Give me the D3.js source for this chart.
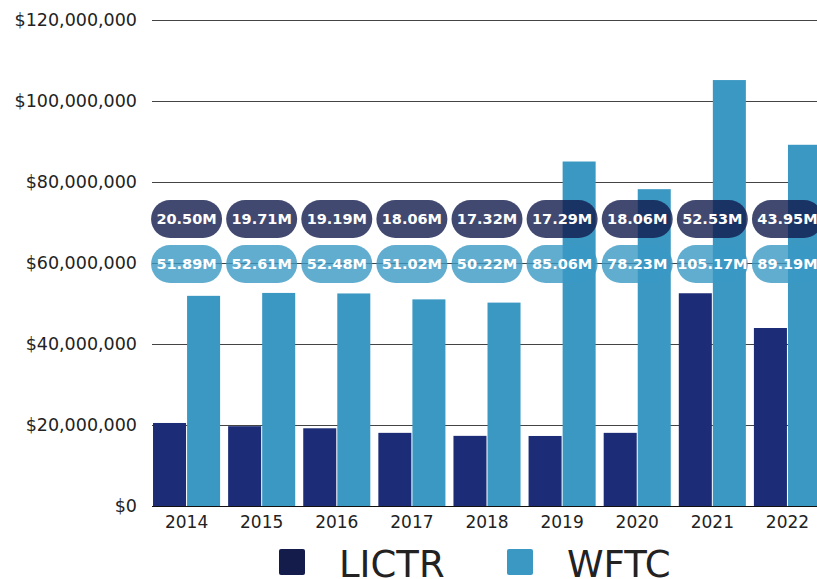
<!DOCTYPE html>
<html>
<head>
<meta charset="utf-8">
<script src="https://cdn.jsdelivr.net/npm/d3@7"></script>
<style>
  body { margin: 0; background: #fff; }
  svg text { font-family: "DejaVu Sans", sans-serif; }
</style>
</head>
<body>
<svg id="chart" width="817" height="579"></svg>
<script>
var years = ["2014", "2015", "2016", "2017", "2018", "2019", "2020", "2021", "2022"]
var seriesNames = ["LICTR", "WFTC"]
var lictr = [20.50, 19.71, 19.19, 18.06, 17.32, 17.29, 18.06, 52.53, 43.95]
var wftc = [51.89, 52.61, 52.48, 51.02, 50.22, 85.06, 78.23, 105.17, 89.19]
var yTicks = [0, 20, 40, 60, 80, 100, 120]

var colors = { LICTR: "#1c2c76", WFTC: "#3b98c3" }
var pillColors = { LICTR: "#121c4c", WFTC: "#3a98c4" }

var svg = d3.select("#chart")

var x = d3.scaleBand().domain(years).range([149, 825])
  .paddingInner(0.107).paddingOuter(0.0535)
var xInner = d3.scaleBand().domain(seriesNames).range([0, x.bandwidth()]).paddingInner(0.03)
var y = d3.scaleLinear().domain([0, 120]).range([506, 20])

// gridlines + y labels
var yAxis = svg.append("g")
  .attr("transform", "translate(152,0)")
  .call(d3.axisLeft(y).tickValues(yTicks).tickSize(-665).tickPadding(15)
    .tickFormat(d => "$" + d3.format(",")(d * 1000000)))
yAxis.select(".domain").remove()
yAxis.selectAll(".tick line").attr("stroke", "#444").attr("stroke-width", 1)
yAxis.selectAll("text").attr("font-size", 17.5).attr("fill", "#222")

var rows = years.map((yr, i) => ({ year: yr, LICTR: lictr[i], WFTC: wftc[i] }))

var groups = svg.append("g").selectAll("g").data(rows).join("g")
  .attr("transform", d => `translate(${x(d.year)},0)`)

groups.selectAll("rect").data(d => seriesNames.map(k => ({ key: k, value: d[k] }))).join("rect")
  .attr("x", d => xInner(d.key))
  .attr("width", xInner.bandwidth())
  .attr("y", d => y(d.value))
  .attr("height", d => y(0) - y(d.value))
  .attr("fill", d => colors[d.key])

// x axis
var xAxis = svg.append("g")
  .attr("transform", "translate(0,506)")
  .call(d3.axisBottom(x).tickSize(0).tickPadding(10))
xAxis.select(".domain").attr("d", "M152,0.5H817").attr("stroke", "#111").attr("stroke-width", 1.2)
xAxis.selectAll("text").attr("font-size", 17).attr("fill", "#222")

// value pills
var pillRows = [{ key: "LICTR", cy: 219, vals: lictr }, { key: "WFTC", cy: 264, vals: wftc }]
pillRows.forEach(function (row) {
  var g = svg.append("g").selectAll("g").data(row.vals).join("g")
    .attr("transform", (d, i) => `translate(${x(years[i]) + x.bandwidth() / 2},${row.cy})`)
  g.append("rect")
    .attr("x", -35.5).attr("y", -19).attr("width", 71).attr("height", 38)
    .attr("rx", 19)
    .attr("fill", pillColors[row.key])
    .attr("fill-opacity", 0.8)
  g.append("text")
    .attr("text-anchor", "middle")
    .attr("dy", "0.36em")
    .attr("font-size", 14.5)
    .attr("font-weight", "bold")
    .attr("fill", "#fff")
    .text(d => d.toFixed(2) + "M")
})

// legend
var legend = [{ key: "LICTR", x: 279, fill: "#141c4b" }, { key: "WFTC", x: 507, fill: "#3b98c3" }]
var lg = svg.append("g").selectAll("g").data(legend).join("g")
  .attr("transform", d => `translate(${d.x},549)`)
lg.append("rect").attr("width", 26).attr("height", 26).attr("rx", 2).attr("fill", d => d.fill)
lg.append("text")
  .attr("x", 60).attr("y", 28)
  .attr("font-size", 37)
  .attr("fill", "#222")
  .text(d => d.key)
</script>
</body>
</html>
